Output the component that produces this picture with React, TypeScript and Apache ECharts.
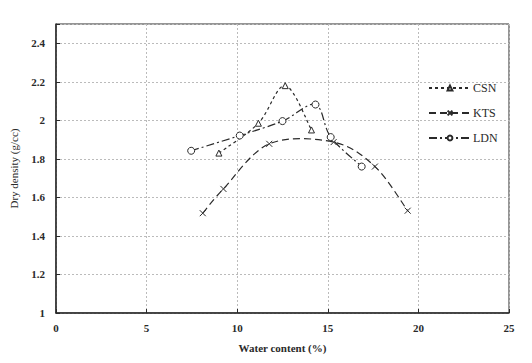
import React, { useEffect, useRef } from "react";
import * as echarts from "echarts";

const xTicks = [0, 5, 10, 15, 20, 25];
const yTickLabels = ["1", "1.2", "1.4", "1.6", "1.8", "2", "2.2", "2.4"];

const csnX = [8.99, 11.17, 12.65, 14.1];
const csnY = [1.83, 1.985, 2.18, 1.95];

const ktsX = [8.1, 9.24, 11.77, 15.32, 17.6, 19.41];
const ktsY = [1.518, 1.644, 1.878, 1.887, 1.76, 1.531];

const ldnX = [7.46, 10.14, 12.5, 14.32, 15.16, 16.87];
const ldnY = [1.842, 1.921, 1.996, 2.082, 1.913, 1.76];

const seriesNames = ["CSN", "KTS", "LDN"];

const FONT = "Liberation Serif";
const INK = "#2a2a2a";

const CROSS = "path://M0,0L10,10M10,0L0,10";

function pairs(xs: number[], ys: number[]) {
  return xs.map((x, i) => [x, ys[i]]);
}

function splinePath(pts: number[][]): string {
  let d = `M${pts[0][0]},${pts[0][1]}`;
  for (let i = 0; i < pts.length - 1; i++) {
    const p0 = pts[i - 1] || pts[i];
    const p1 = pts[i];
    const p2 = pts[i + 1];
    const p3 = pts[i + 2] || pts[i + 1];
    const c1x = p1[0] + (p2[0] - p0[0]) / 6;
    const c1y = p1[1] + (p2[1] - p0[1]) / 6;
    const c2x = p2[0] - (p3[0] - p1[0]) / 6;
    const c2y = p2[1] - (p3[1] - p1[1]) / 6;
    d += ` C${c1x},${c1y} ${c2x},${c2y} ${p2[0]},${p2[1]}`;
  }
  return d;
}

function curveSeries(xs: number[], ys: number[], dash: number[]) {
  return {
    type: "custom" as const,
    silent: true,
    z: 2,
    data: pairs(xs, ys),
    renderItem: (params: any, api: any) => {
      if (params.dataIndex !== 0) return null;
      const pts = xs.map((x, i) => api.coord([x, ys[i]]));
      return {
        type: "path",
        shape: { pathData: splinePath(pts) },
        style: { fill: "none", stroke: INK, lineWidth: 1.2, lineDash: dash },
      };
    },
  };
}

export default function App() {
  const ref = useRef<HTMLDivElement>(null);
  useEffect(() => {
    document.body.style.margin = "0";
    if (!ref.current) return;
    const chart = echarts.init(ref.current, undefined, { renderer: "svg" });
    const dashes = [[3, 3], [7, 4], [8, 3, 2, 3]];
    const symbols = ["triangle", CROSS, "circle"];
    const sizes = [6, 6, 7];
    const fills = ["#fff", INK, "#fff"];
    const data = [pairs(csnX, csnY), pairs(ktsX, ktsY), pairs(ldnX, ldnY)];
    const xsList = [csnX, ktsX, ldnX];
    const ysList = [csnY, ktsY, ldnY];

    const legendSeries = seriesNames.map((name, k) => ({
      type: "line" as const,
      name,
      data: [] as number[][],
      symbol: symbols[k],
      symbolSize: sizes[k],
      itemStyle: { color: fills[k], borderColor: INK, borderWidth: 1 },
      lineStyle: { color: INK, width: 1.2, type: dashes[k] },
    }));
    const markerSeries = seriesNames.map((name, k) => ({
      type: "scatter" as const,
      name: name + " pts",
      z: 4,
      data: data[k],
      symbol: symbols[k],
      symbolSize: sizes[k],
      itemStyle: { color: fills[k], borderColor: INK, borderWidth: 1, opacity: 1 },
    }));
    const curves = seriesNames.map((_, k) => curveSeries(xsList[k], ysList[k], dashes[k]));

    chart.setOption({
      animation: false,
      backgroundColor: "#fff",
      textStyle: { fontFamily: FONT, color: INK },
      grid: {
        left: 51,
        right: 23,
        top: 24,
        bottom: 50,
        show: true,
        borderColor: INK,
        borderWidth: 1,
        backgroundColor: "transparent",
      },
      legend: {
        orient: "vertical",
        left: 428,
        top: 82,
        padding: 0,
        itemWidth: 42,
        itemHeight: 6,
        itemGap: 13,
        data: seriesNames,
        textStyle: { fontFamily: FONT, fontSize: 12, color: INK, padding: [0, 0, 0, -3] },
      },
      xAxis: {
        type: "value",
        min: xTicks[0],
        max: xTicks[xTicks.length - 1],
        interval: 5,
        name: "Water content (%)",
        nameLocation: "middle",
        nameGap: 29,
        nameTextStyle: { fontFamily: FONT, fontSize: 11, fontWeight: "bold", color: INK },
        axisLine: { lineStyle: { color: INK, width: 1.5 } },
        axisTick: { inside: true, length: 4, lineStyle: { color: INK } },
        axisLabel: { fontFamily: FONT, fontSize: 11, fontWeight: "bold", color: INK, margin: 9 },
        splitLine: { show: true, lineStyle: { color: "#bbb", type: [2, 2] } },
      },
      yAxis: {
        type: "value",
        min: 1,
        max: 2.5,
        interval: 0.2,
        name: "Dry density (g/cc)",
        nameLocation: "middle",
        nameGap: 37,
        nameTextStyle: { fontFamily: FONT, fontSize: 11, color: INK },
        axisLine: { show: true, lineStyle: { color: INK, width: 1.5 } },
        axisTick: { show: true, inside: true, length: 4, lineStyle: { color: INK } },
        axisLabel: {
          fontFamily: FONT,
          fontSize: 11,
          fontWeight: "bold",
          color: INK,
          margin: 11,
          formatter: (v: number) => {
            const s = String(Math.round(v * 10) / 10);
            return yTickLabels.includes(s) ? s : "";
          },
        },
        splitLine: { show: true, lineStyle: { color: "#bbb", type: [2, 2] } },
      },
      series: [...curves, ...legendSeries, ...markerSeries],
    });
    return () => chart.dispose();
  }, []);
  return <div ref={ref} style={{ width: 532, height: 363 }} />;
}
